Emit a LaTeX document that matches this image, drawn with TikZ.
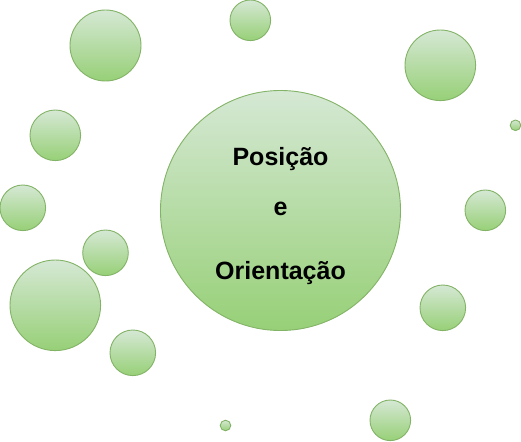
\documentclass[tikz,border=0pt]{standalone}
\usepackage{fontspec}
\setmainfont{Liberation Sans}
\begin{document}
\begin{tikzpicture}[x=1pt,y=-1pt,
  bubble/.style={circle, draw=bubstroke, line width=0.9pt, top color=bubtop, bottom color=bubbottom, inner sep=0pt, minimum size=#1},
  label/.style={font=\bfseries\fontsize{25}{29}\selectfont, inner sep=0pt, anchor=base}]
\definecolor{bubtop}{HTML}{D5E8D4}
\definecolor{bubbottom}{HTML}{97D077}
\definecolor{bubstroke}{HTML}{82B366}
\useasboundingbox (0,0) rectangle (521,441);
\node[bubble=240pt] (big) at (280.5,210.5) {};
\node[bubble=71pt] (c1) at (105.5,45.5) {};
\node[bubble=40.6pt] (c2) at (250.3,20.3) {};
\node[bubble=70.6pt] (c3) at (440.3,65.3) {};
\node[bubble=50.6pt] (c4) at (55.3,135.3) {};
\node[bubble=10.6pt] (c5) at (515.5,125.3) {};
\node[bubble=45.6pt] (c6) at (22.8,207.8) {};
\node[bubble=40.6pt] (c7) at (485.3,210.3) {};
\node[bubble=45.6pt] (c8) at (105.5,252.8) {};
\node[bubble=90.6pt] (c9) at (55.3,305.3) {};
\node[bubble=45.6pt] (c10) at (442.8,307.8) {};
\node[bubble=45.6pt] (c11) at (132.8,352.8) {};
\node[bubble=10.6pt] (c12) at (225.5,425.5) {};
\node[bubble=40.6pt] (c13) at (390.3,420.3) {};
\node[label] (t1) at (280.5,165) {Posição};
\node[label] (t2) at (280.5,215) {e};
\node[label] (t3) at (280.5,279) {Orientação};
\end{tikzpicture}
\end{document}
